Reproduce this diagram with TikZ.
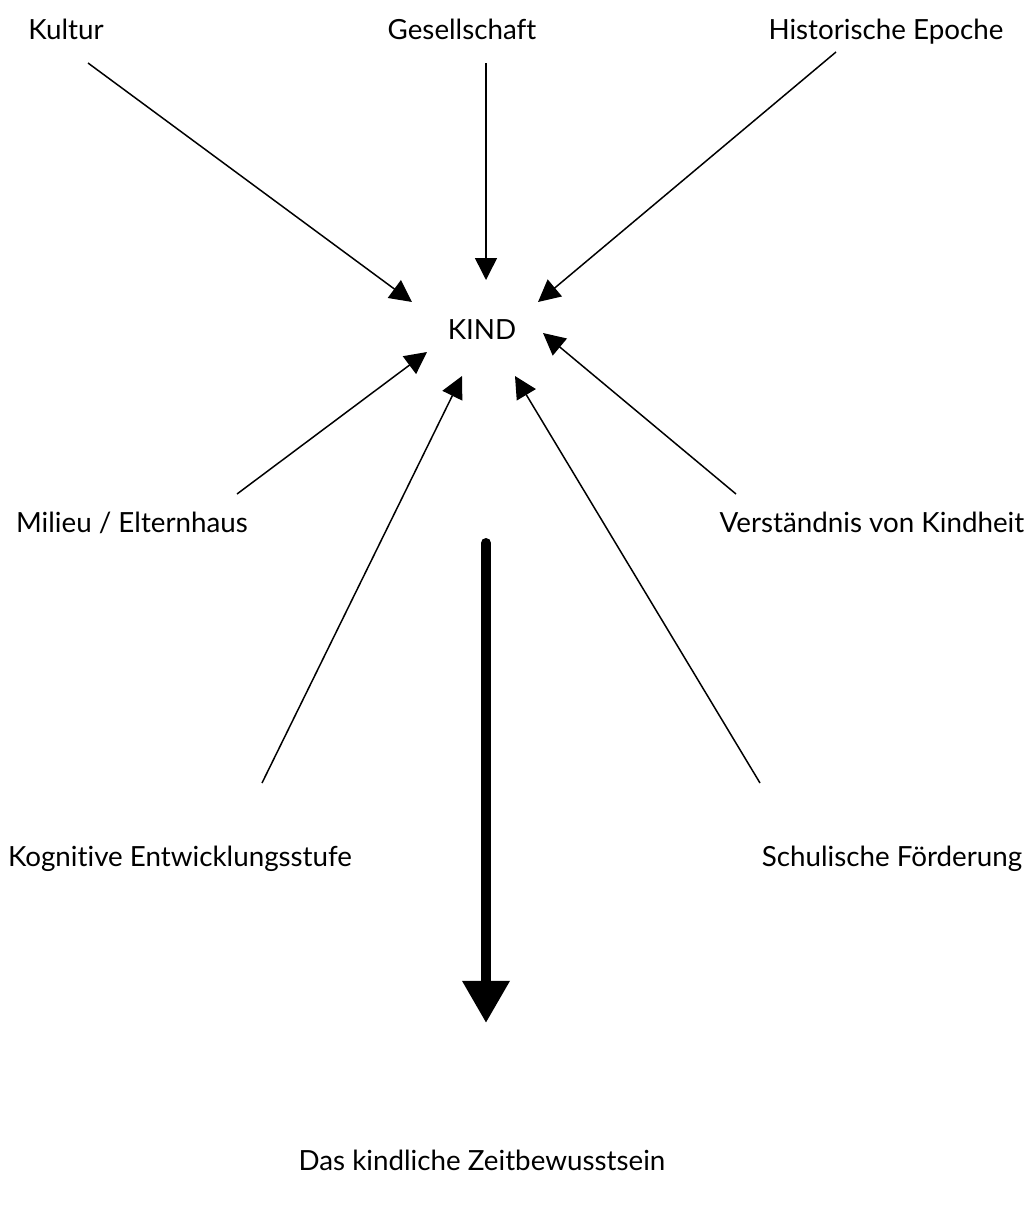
\documentclass[tikz,border=0pt]{standalone}
\usepackage{fontspec}
\setmainfont{Lato}[Ligatures=NoCommon]
\usetikzlibrary{calc}
\usetikzlibrary{arrows.meta}

\begin{document}
\begin{tikzpicture}[x=0.02cm,y=-0.02cm,every node/.style={font=\fontsize{15.8}{19}\selectfont,inner sep=0pt,anchor=base},
  influence/.style={-{Triangle[length=12.5pt,width=12.5pt]},line width=0.85pt},
  outcome/.style={-{Triangle[length=24pt,width=25.6pt]},line width=5.7pt,line cap=round}]

\useasboundingbox (0,0) rectangle (1033,1207);

\node (kultur) at (66,39) {Kultur};
\node (gesellschaft) at (462,39) {Gesellschaft};
\node (epoche) at (886,39) {Historische Epoche};
\node (kind) at (482,339) {KIND};
\node (milieu) at (132,532) {Milieu / Elternhaus};
\node (verstaendnis) at (872,532) {Verständnis von Kindheit};
\node (kognitiv) at (180,866) {Kognitive Entwicklungsstufe};
\node (schule) at (892,866) {Schulische Förderung};
\node (zeit) at (482,1170) {Das kindliche Zeitbewusstsein};

\draw[influence] ([shift={(22,24)}]kultur.base) -- ([shift={(-70,-37)}]kind.base);
\draw[influence] ([shift={(24,24)}]gesellschaft.base) -- ([shift={(4,-59)}]kind.base);
\draw[influence] ([shift={(-50,13)}]epoche.base) -- ([shift={(56,-37)}]kind.base);
\draw[influence] ([shift={(105,-38)}]milieu.base) -- ([shift={(-55,13)}]kind.base);
\draw[influence] ([shift={(-136,-38)}]verstaendnis.base) -- ([shift={(61,-6)}]kind.base);
\draw[influence] ([shift={(82,-83)}]kognitiv.base) -- ([shift={(-20,37)}]kind.base);
\draw[influence] ([shift={(-132,-83)}]schule.base) -- ([shift={(33,37)}]kind.base);

\draw[outcome] ([shift={(4,204)}]kind.base) -- ([shift={(4,-147)}]zeit.base);

\end{tikzpicture}
\end{document}
